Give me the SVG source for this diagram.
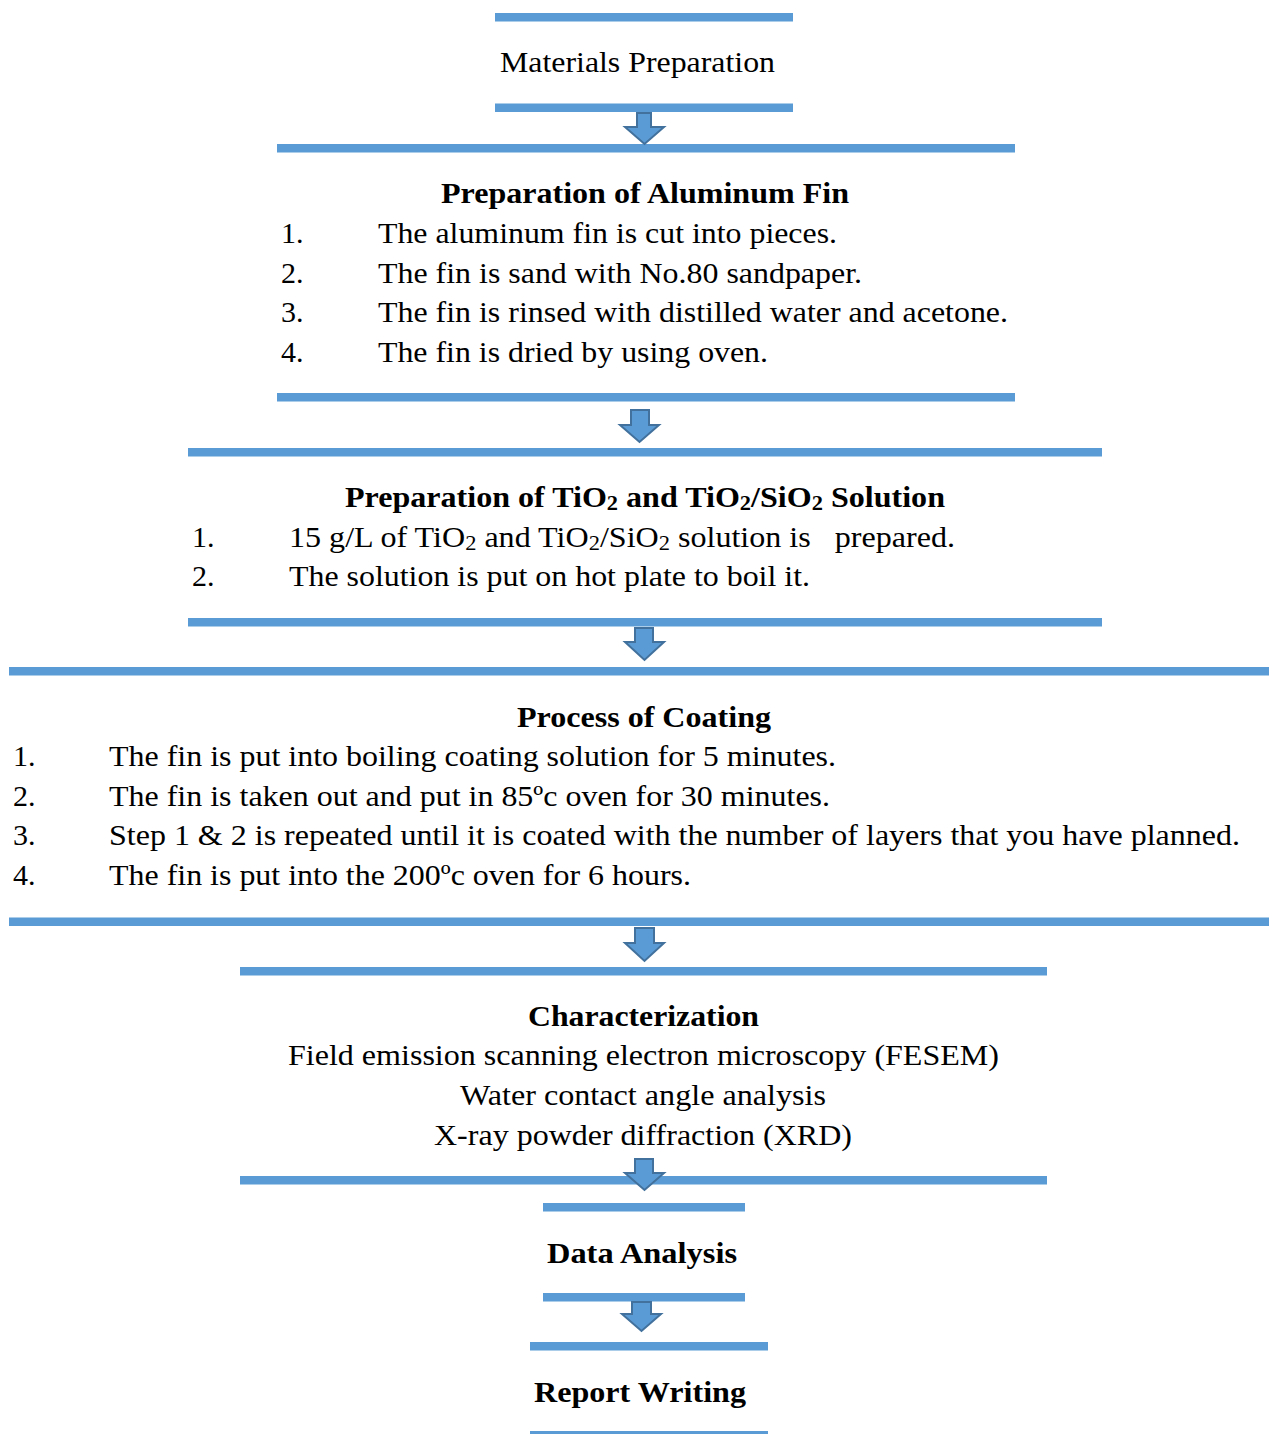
<svg xmlns="http://www.w3.org/2000/svg" width="1269" height="1434" viewBox="0 0 1269 1434">
<style>
.bar{fill:#5b9bd5}
.t{font-family:"Liberation Serif","Times New Roman",serif;font-size:30px;fill:#000}
.b{font-weight:bold}
.c{text-anchor:middle}
.arrow{fill:#5b9bd5;stroke:#41719c;stroke-width:2;stroke-linejoin:miter}
</style>
<rect width="1269" height="1434" fill="#fff"/>
<g id="materials">
<rect class="bar" x="495" y="13" width="298" height="8.5"/>
<text class="t" x="500" y="72" textLength="275" lengthAdjust="spacingAndGlyphs">Materials Preparation</text>
<rect class="bar" x="495" y="103.5" width="298" height="8.5"/>
</g>
<g id="aluminum">
<rect class="bar" x="277" y="144" width="738" height="8.5"/>
<text class="t b" x="441" y="203" textLength="408" lengthAdjust="spacingAndGlyphs">Preparation of Aluminum Fin</text>
<text class="t" x="281" y="243">1.</text><text class="t" x="378" y="243" textLength="459" lengthAdjust="spacingAndGlyphs">The aluminum fin is cut into pieces.</text>
<text class="t" x="281" y="283">2.</text><text class="t" x="378" y="283" textLength="484" lengthAdjust="spacingAndGlyphs">The fin is sand with No.80 sandpaper.</text>
<text class="t" x="281" y="322">3.</text><text class="t" x="378" y="322" textLength="630" lengthAdjust="spacingAndGlyphs">The fin is rinsed with distilled water and acetone.</text>
<text class="t" x="281" y="362">4.</text><text class="t" x="378" y="362" textLength="390" lengthAdjust="spacingAndGlyphs">The fin is dried by using oven.</text>
<rect class="bar" x="277" y="393" width="738" height="8.5"/>
</g>
<g id="solution">
<rect class="bar" x="188" y="448" width="914" height="8.5"/>
<text class="t b" x="345" y="507" textLength="600" lengthAdjust="spacingAndGlyphs">Preparation of TiO<tspan font-size="21" dy="3">2</tspan><tspan dy="-3"> and TiO</tspan><tspan font-size="21" dy="3">2</tspan><tspan dy="-3">/SiO</tspan><tspan font-size="21" dy="3">2</tspan><tspan dy="-3"> Solution</tspan></text>
<text class="t" x="192" y="547">1.</text><text class="t" x="289" y="547" xml:space="preserve" textLength="666" lengthAdjust="spacingAndGlyphs">15 g/L of TiO<tspan font-size="21" dy="3">2</tspan><tspan dy="-3"> and TiO</tspan><tspan font-size="21" dy="3">2</tspan><tspan dy="-3">/SiO</tspan><tspan font-size="21" dy="3">2</tspan><tspan dy="-3"> solution is   prepared.</tspan></text>
<text class="t" x="192" y="586">2.</text><text class="t" x="289" y="586" textLength="521" lengthAdjust="spacingAndGlyphs">The solution is put on hot plate to boil it.</text>
<rect class="bar" x="188" y="618" width="914" height="8.5"/>
</g>
<g id="coating">
<rect class="bar" x="9" y="667" width="1260" height="8.5"/>
<text class="t b" x="517" y="727" textLength="254" lengthAdjust="spacingAndGlyphs">Process of Coating</text>
<text class="t" x="13" y="766">1.</text><text class="t" x="109" y="766" textLength="727" lengthAdjust="spacingAndGlyphs">The fin is put into boiling coating solution for 5 minutes.</text>
<text class="t" x="13" y="806">2.</text><text class="t" x="109" y="806" textLength="721" lengthAdjust="spacingAndGlyphs">The fin is taken out and put in 85ºc oven for 30 minutes.</text>
<text class="t" x="13" y="845">3.</text><text class="t" x="109" y="845" textLength="1131" lengthAdjust="spacingAndGlyphs">Step 1 &amp; 2 is repeated until it is coated with the number of layers that you have planned.</text>
<text class="t" x="13" y="885">4.</text><text class="t" x="109" y="885" textLength="582" lengthAdjust="spacingAndGlyphs">The fin is put into the 200ºc oven for 6 hours.</text>
<rect class="bar" x="9" y="917.5" width="1260" height="8.5"/>
</g>
<g id="characterization">
<rect class="bar" x="240" y="967" width="807" height="8.5"/>
<text class="t b" x="528" y="1026" textLength="231" lengthAdjust="spacingAndGlyphs">Characterization</text>
<text class="t" x="288" y="1065" textLength="711" lengthAdjust="spacingAndGlyphs">Field emission scanning electron microscopy (FESEM)</text>
<text class="t" x="460" y="1105" textLength="366" lengthAdjust="spacingAndGlyphs">Water contact angle analysis</text>
<text class="t" x="434" y="1145" textLength="418" lengthAdjust="spacingAndGlyphs">X-ray powder diffraction (XRD)</text>
<rect class="bar" x="240" y="1176" width="807" height="8.5"/>
</g>
<g id="data-analysis">
<rect class="bar" x="543" y="1203" width="202" height="8.5"/>
<text class="t b" x="547" y="1263" textLength="190" lengthAdjust="spacingAndGlyphs">Data Analysis</text>
<rect class="bar" x="543" y="1293" width="202" height="8.5"/>
</g>
<g id="report-writing">
<rect class="bar" x="530" y="1342" width="238" height="8.5"/>
<text class="t b" x="534" y="1402" textLength="212" lengthAdjust="spacingAndGlyphs">Report Writing</text>
<rect class="bar" x="530" y="1431" width="238" height="4"/>
</g>
<g id="connectors">
<polygon class="arrow" points="637,113 651,113 651,127 664,127 644.5,144 625,127 637,127"/>
<polygon class="arrow" points="631,410 649,410 649,425 659,425 639.5,442 620,425 631,425"/>
<polygon class="arrow" points="635,628 653,628 653,642 664,642 644.5,660 625,642 635,642"/>
<polygon class="arrow" points="635,928 654,928 654,943 664,943 644.5,961 625,943 635,943"/>
<polygon class="arrow" points="635,1159 653,1159 653,1173 664,1173 644.5,1190 625,1173 635,1173"/>
<polygon class="arrow" points="632,1302 651,1302 651,1314 661,1314 641.5,1331 622,1314 632,1314"/>
</g>
</svg>
